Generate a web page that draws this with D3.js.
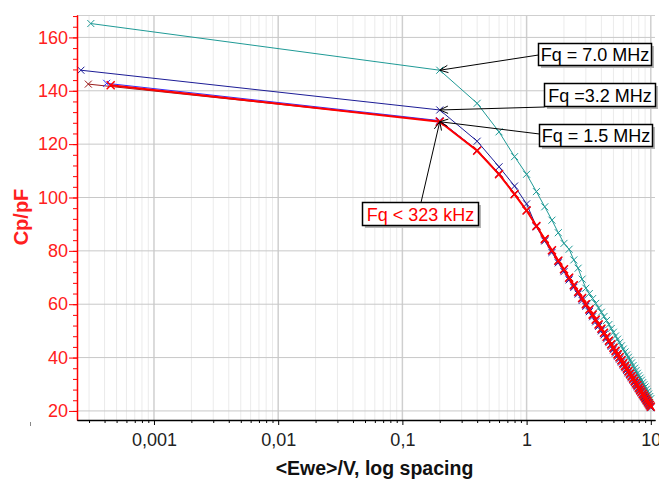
<!DOCTYPE html>
<html lang="en">
<head>
<meta charset="UTF-8">
<title>Cp vs Ewe</title>
<style>
    body {
        margin: 0;
        background: #fff;
    }
    svg {
        display: block;
        font-family: "Liberation Sans", Arial, sans-serif;
    }
</style>
</head>
<body>
<svg id="chart" width="659" height="479"></svg>

<script src="https://cdn.jsdelivr.net/npm/d3@7"></script>
<script>
    // values
    const voltage = [0.2, 0.4, 0.6, 0.8, 1.0, 1.2, 1.4, 1.6, 1.8, 2.0,
        2.2, 2.4, 2.6, 2.8, 3.0, 3.2, 3.4, 3.6, 3.8, 4.0,
        4.2, 4.4, 4.6, 4.8, 5.0, 5.2, 5.4, 5.6, 5.8, 6.0,
        6.2, 6.4, 6.6, 6.8, 7.0, 7.2, 7.4, 7.6, 7.8, 8.0,
        8.2, 8.4, 8.6, 8.8, 9.0, 9.2, 9.4, 9.6, 9.8, 10];

    const seriesNames = ["Fq = 7.0 MHz", "Fq =3.2 MHz", "Fq = 1.5 MHz", "Fq < 323 kHz (b)", "Fq < 323 kHz"];
    // first point of every sweep (near 0 V)
    const startVoltage = [0.00031, 0.000258, 0.000296, 0.000416, 0.000448];
    const startCp = [165.2, 147.7, 142.5, 142.8, 142.1];

    const cp7MHz = [147.7, 135.3, 124.6, 115.3, 108.7, 102.2, 96.5, 91.5, 86.8, 82.8,
        80.6, 76.6, 73.5, 69.4, 66.0, 64.0, 62.1, 60.3, 58.6, 57.0,
        55.4, 53.9, 52.4, 50.9, 49.5, 48.1, 46.9, 45.6, 44.4, 43.2,
        42.1, 41.0, 40.1, 39.0, 38.0, 37.0, 36.0, 35.1, 34.1, 33.2,
        32.3, 31.5, 30.6, 29.8, 29.0, 28.1, 27.2, 26.3, 25.4, 24.6];
    const cp3MHz = [132.8, 121.1, 111.5, 104.3, 97.6, 89.0, 83.7, 79.4, 75.5, 72.2,
        69.1, 66.3, 63.8, 61.4, 59.2, 57.2, 55.3, 53.4, 51.7, 50.0,
        48.5, 47.0, 45.6, 44.2, 42.9, 41.7, 40.5, 39.4, 38.3, 37.2,
        36.2, 35.2, 34.2, 33.3, 32.4, 31.5, 30.7, 29.8, 29.0, 28.2,
        27.4, 26.7, 25.9, 25.2, 24.5, 23.8, 23.1, 22.5, 21.8, 21.2];
    const cp1MHz = [128.6, 117.8, 109.0, 101.5, 95.3, 89.5, 84.6, 80.3, 76.5, 73.2,
        70.1, 67.3, 64.8, 62.4, 60.2, 58.1, 56.2, 54.4, 52.6, 51.0,
        49.4, 47.9, 46.5, 45.1, 43.9, 42.6, 41.4, 40.2, 39.1, 38.0,
        37.0, 36.0, 35.0, 34.1, 33.1, 32.2, 31.4, 30.5, 29.7, 28.9,
        28.1, 27.3, 26.6, 25.9, 25.2, 24.5, 23.8, 23.1, 22.4, 21.8];
    const cpLowB = [128.8, 117.7, 108.9, 101.3, 95.0, 89.1, 84.1, 79.9, 76.0, 72.8,
        69.6, 66.8, 64.3, 62.0, 59.7, 57.7, 55.8, 53.9, 52.2, 50.5,
        49.0, 47.5, 46.1, 44.7, 43.4, 42.2, 41.0, 39.9, 38.7, 37.7,
        36.6, 35.6, 34.7, 33.7, 32.8, 31.9, 31.0, 30.2, 29.4, 28.6,
        27.8, 27.0, 26.3, 25.6, 24.9, 24.2, 23.5, 22.8, 22.1, 21.5];
    const cpLow = [128.4, 117.5, 108.7, 101.2, 95.1, 89.3, 84.4, 80.2, 76.3, 73.1,
        69.9, 67.1, 64.6, 62.3, 60.0, 58.0, 56.1, 54.2, 52.4, 50.8,
        49.3, 47.8, 46.3, 45.0, 43.7, 42.5, 41.2, 40.1, 39.0, 37.9,
        36.8, 35.9, 34.9, 33.9, 33.0, 32.1, 31.2, 30.4, 29.6, 28.7,
        27.9, 27.2, 26.4, 25.7, 25.0, 24.3, 23.6, 22.9, 22.2, 21.6];

    const xTickValues = [0.001, 0.01, 0.1, 1, 10];
    const xTickLabels = ["0,001", "0,01", "0,1", "1", "10"];
    const yTickValues = [20, 40, 60, 80, 100, 120, 140, 160];

    // styles
    const colors = ["#1f9a96", "#1c1c96", "#9a1a1a", "#3030ff", "#ff0000"];
    const widths = [1, 1, 1, 1, 2];
    const markSize = [3.5, 3.5, 3.5, 3.5, 4];

    const svg = d3.select("#chart");
    const plotLeft = 77, plotRight = 655, plotTop = 15, plotBottom = 420;

    let x = d3.scaleLog()
        .domain([0.00024, 10.81])
        .range([plotLeft, plotRight]);
    let y = d3.scaleLinear()
        .domain([16.6, 168.4])
        .range([plotBottom, plotTop]);

    //网格
    let grid = svg.append("g");
    let xMinor = x.ticks().filter(d => xTickValues.indexOf(d) < 0);
    grid.selectAll("line.xminor")
        .data(xMinor)
        .enter().append("line")
        .attr("x1", d => x(d)).attr("x2", d => x(d))
        .attr("y1", plotTop).attr("y2", plotBottom)
        .attr("stroke", "#ebebeb");
    grid.selectAll("line.xmajor")
        .data(xTickValues)
        .enter().append("line")
        .attr("x1", d => x(d)).attr("x2", d => x(d))
        .attr("y1", plotTop).attr("y2", plotBottom)
        .attr("stroke", "#cfcfcf")
        .attr("stroke-width", 1.5);
    grid.selectAll("line.ymajor")
        .data(yTickValues)
        .enter().append("line")
        .attr("x1", plotLeft).attr("x2", plotRight)
        .attr("y1", d => y(d)).attr("y2", d => y(d))
        .attr("stroke", "#c8c8c8");
    grid.append("line")
        .attr("x1", plotLeft).attr("x2", plotRight)
        .attr("y1", plotTop + 0.5).attr("y2", plotTop + 0.5)
        .attr("stroke", "#cfcfcf");

    //曲线
    let line = d3.line()
        .x(d => x(d.v))
        .y(d => y(d.cp));
    let allSeries = [cp7MHz, cp3MHz, cp1MHz, cpLowB, cpLow];

    allSeries.forEach(function (values, i) {
        let pts = [{v: startVoltage[i], cp: startCp[i]}]
            .concat(voltage.map((v, j) => ({v: v, cp: values[j]})));
        let g = svg.append("g").attr("class", "series").attr("data-name", seriesNames[i]);
        let s = markSize[i];
        g.append("path")
            .datum(pts)
            .attr("d", line)
            .attr("fill", "none")
            .attr("stroke", colors[i])
            .attr("stroke-width", widths[i]);
        g.selectAll("path.mark")
            .data(pts)
            .enter().append("path")
            .attr("class", "mark")
            .attr("transform", d => "translate(" + x(d.v) + "," + y(d.cp) + ")")
            .attr("d", "M" + -s + "," + -s + "L" + s + "," + s + "M" + -s + "," + s + "L" + s + "," + -s)
            .attr("stroke", colors[i])
            .attr("stroke-width", i === 4 ? 1.5 : 1);
    });

    //坐标轴
    let yMinor = d3.range(20, 168.5, 4);
    svg.append("g")
        .attr("transform", "translate(" + plotLeft + ",0)")
        .call(d3.axisLeft(y).tickValues(yMinor).tickSize(4).tickSizeOuter(0).tickFormat(""))
        .call(g => g.select(".domain").attr("stroke", "#ff0000"))
        .call(g => g.selectAll(".tick line").attr("stroke", "#ff0000"));
    svg.append("g")
        .attr("transform", "translate(" + plotLeft + ",0)")
        .call(d3.axisLeft(y).tickValues(yTickValues).tickSize(8).tickSizeOuter(0).tickPadding(1))
        .call(g => g.select(".domain").attr("stroke", "#ff0000").attr("stroke-width", 1.5))
        .call(g => g.selectAll(".tick line").attr("stroke", "#ff0000"))
        .call(g => g.selectAll(".tick text")
            .attr("fill", "#ff2020")
            .style("font-size", "18px")
            .style("font-family", "'Liberation Sans', Arial, sans-serif"));

    svg.append("g")
        .attr("transform", "translate(0," + plotBottom + ")")
        .call(d3.axisBottom(x).tickValues(xMinor).tickSize(3).tickSizeOuter(0).tickFormat(""))
        .call(g => g.select(".domain").attr("stroke", "#000"));
    svg.append("g")
        .attr("transform", "translate(0," + plotBottom + ")")
        .call(d3.axisBottom(x).tickValues(xTickValues).tickSize(5).tickSizeOuter(0).tickPadding(8)
            .tickFormat((d, i) => xTickLabels[i]))
        .call(g => g.select(".domain").attr("stroke", "#000").attr("stroke-width", 1.5))
        .call(g => g.selectAll(".tick text")
            .attr("fill", "#222")
            .style("font-size", "18px")
            .style("font-family", "'Liberation Sans', Arial, sans-serif"));

    // stray tick mark left of the axes
    svg.append("line")
        .attr("x1", 30.5).attr("x2", 30.5)
        .attr("y1", 422).attr("y2", 426)
        .attr("stroke", "#888");

    //标题
    svg.append("text")
        .attr("transform", "translate(21,217) rotate(-90)")
        .attr("text-anchor", "middle")
        .attr("dominant-baseline", "central")
        .attr("fill", "#ff2020")
        .style("font-size", "20px")
        .style("font-weight", "bold")
        .text("Cp/pF");
    svg.append("text")
        .attr("x", 374.5)
        .attr("y", 475)
        .attr("text-anchor", "middle")
        .attr("fill", "#111")
        .style("font-size", "19.5px")
        .style("font-weight", "bold")
        .text("<Ewe>/V, log spacing");

    //标注
    function annotate(label, color, box, from, tipV, tipCp) {
        let g = svg.append("g");
        let tx = x(tipV), ty = y(tipCp);
        g.append("line")
            .attr("x1", from[0]).attr("y1", from[1])
            .attr("x2", tx).attr("y2", ty)
            .attr("stroke", "#000");
        let a = Math.atan2(from[1] - ty, from[0] - tx), len = 9, sp = 0.42;
        g.append("path")
            .attr("d", "M" + (tx + len * Math.cos(a - sp)) + "," + (ty + len * Math.sin(a - sp)) +
                "L" + tx + "," + ty +
                "L" + (tx + len * Math.cos(a + sp)) + "," + (ty + len * Math.sin(a + sp)))
            .attr("fill", "none")
            .attr("stroke", "#000");
        g.append("rect")
            .attr("x", box[0] + 2.5).attr("y", box[1] + 2.5)
            .attr("width", box[2]).attr("height", box[3])
            .attr("fill", "#b5b5b5");
        g.append("rect")
            .attr("x", box[0]).attr("y", box[1])
            .attr("width", box[2]).attr("height", box[3])
            .attr("fill", "#fff")
            .attr("stroke", "#000")
            .attr("stroke-width", 1.5);
        g.append("text")
            .attr("x", box[0] + box[2] / 2)
            .attr("y", box[1] + box[3] / 2 + 6.5)
            .attr("text-anchor", "middle")
            .attr("fill", color)
            .style("font-size", "18px")
            .text(label);
    }

    annotate(seriesNames[0], "#000", [538.5, 43.5, 113, 22], [538.5, 55], 0.2, cp7MHz[0]);
    annotate(seriesNames[1], "#000", [544.5, 83.5, 111, 23], [544.5, 107], 0.2, cp3MHz[0]);
    annotate(seriesNames[2], "#000", [539.5, 124.5, 113, 22], [539.5, 134], 0.2, cpLow[0]);
    annotate(seriesNames[4], "#ff0000", [362.5, 202.5, 116, 23], [421, 202.5], 0.2, cpLow[0]);
</script>
</body>
</html>
